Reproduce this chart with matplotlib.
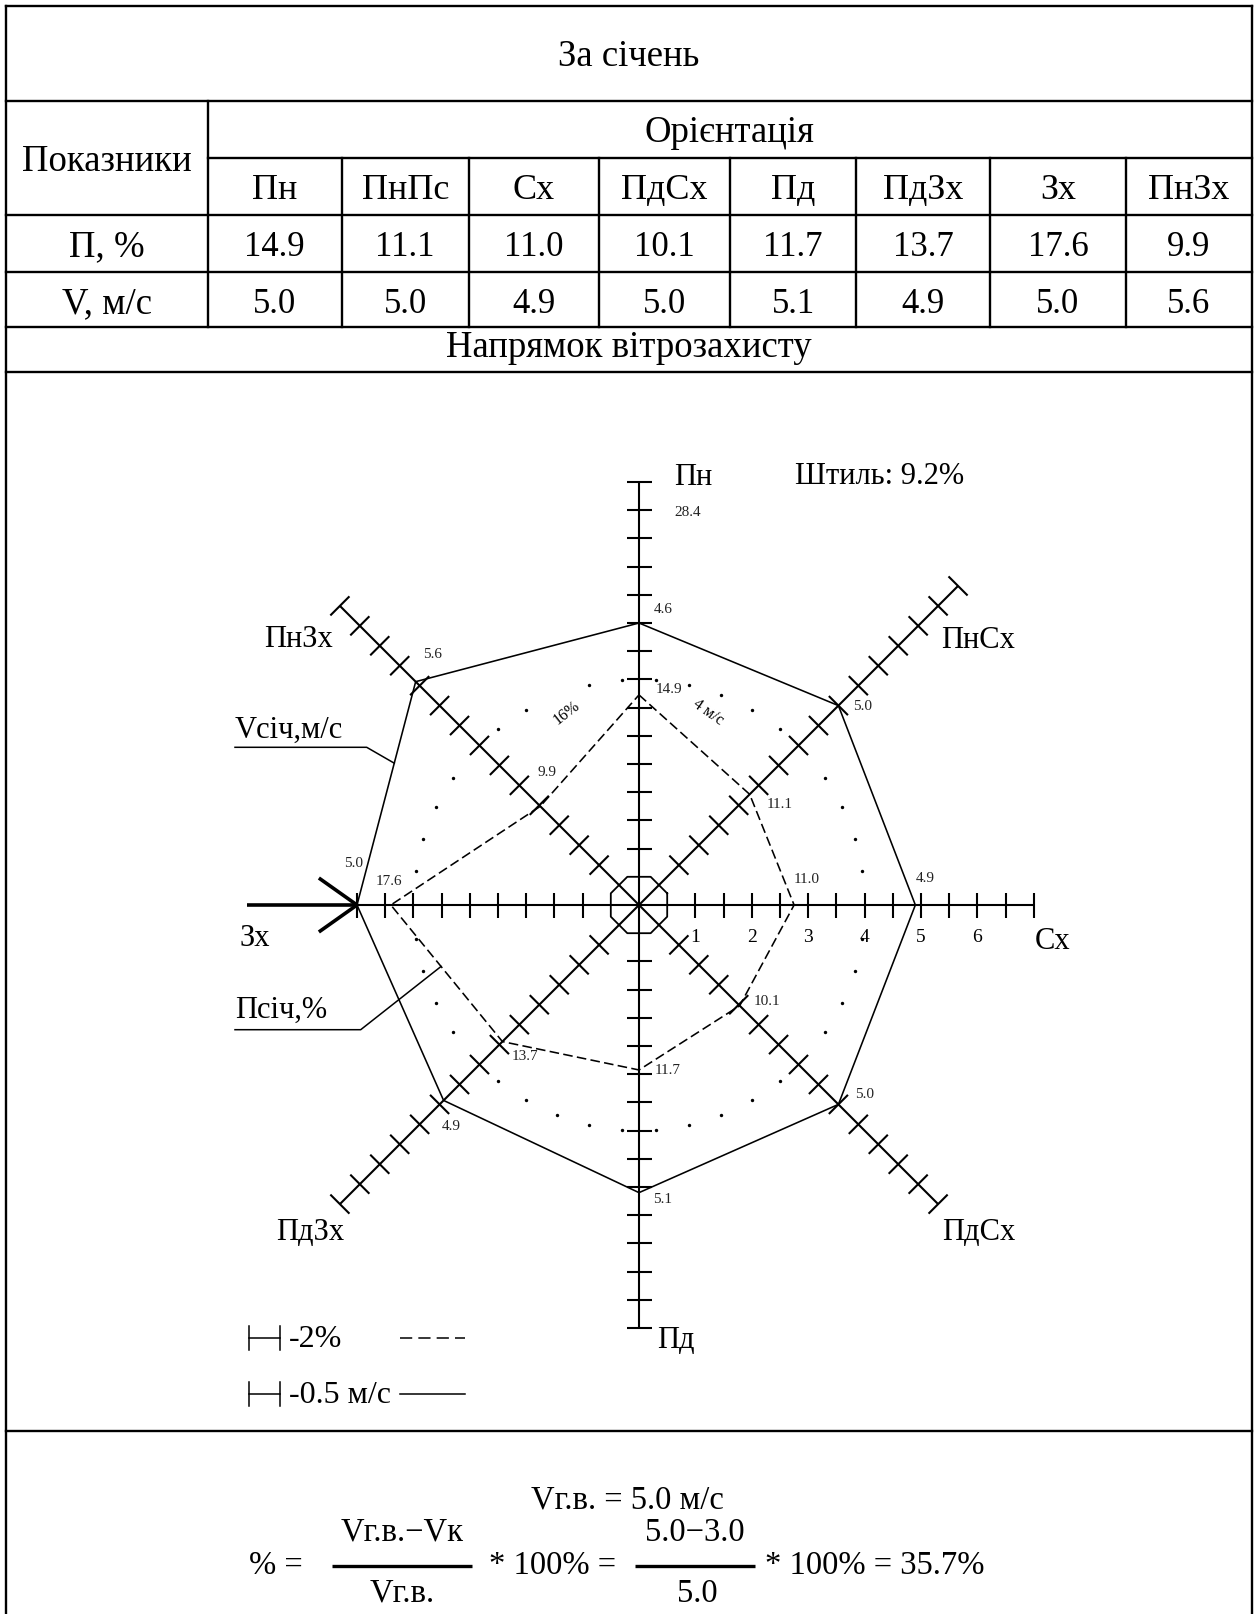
import numpy as np
import matplotlib.pyplot as plt
from matplotlib.collections import LineCollection

plt.rcParams['font.family'] = ['Liberation Serif', 'DejaVu Serif']

# --- table data ---
title = 'За січень'
header = 'Орієнтація'
row_names = ['П, %', 'V, м/с']
columns = ['Пн', 'ПнПс', 'Сх', 'ПдСх', 'Пд', 'ПдЗх', 'Зх', 'ПнЗх']
p_values = [14.9, 11.1, 11.0, 10.1, 11.7, 13.7, 17.6, 9.9]
v_values = [5.0, 5.0, 4.9, 5.0, 5.1, 4.9, 5.0, 5.6]

# --- wind rose data ---
rose_names = ['Пн', 'ПнСх', 'Сх', 'ПдСх', 'Пд', 'ПдЗх', 'Зх', 'ПнЗх']
v_marks = ['4.6', '5.0', '4.9', '5.0', '5.1', '4.9', '5.0', '5.6']
calm = 9.2
speed_scale = [1, 2, 3, 4, 5, 6]
ring_speed = 4      # м/с
ring_pct = 16       # %
v_gv = 5.0

W, H = 1259, 1615
fig = plt.figure(figsize=(W / 100, H / 100), dpi=100)

# pixel layer for the table frame and the texts
tab = fig.add_axes([0, 0, 1, 1])
tab.set_xlim(0, W)
tab.set_ylim(H, 0)
tab.axis('off')

# rose layer in м/с, 1 tick = 0.5 м/с = 2 %
CX, CY, PX = 639, 906, 56.4
rose = fig.add_axes([0, 0, 1, 1])
rose.set_xlim(-CX / PX, (W - CX) / PX)
rose.set_ylim(-(H - CY) / PX, CY / PX)
rose.axis('off')


def to_px(x, y):
    return CX + x * PX, CY - y * PX


# ---------------- table ----------------
blw = 1.7
xl, xr, yt = 6, 1252, 7.3
col_x = [207.7, 341.7, 468.7, 599, 730, 856.2, 990.5, 1125.6, xr]

tab.plot([xl, xl], [yt, H], color='k', lw=blw)
tab.plot([xr, xr], [yt, H], color='k', lw=blw)
tab.plot([xl, xr], [yt, yt], color='k', lw=blw)
for y in [101.7, 215.7, 272.7, 328.3, 373, 1432]:
    tab.plot([xl, xr], [y, y], color='k', lw=blw)
tab.plot([col_x[0], xr], [159, 159], color='k', lw=blw)
tab.plot([col_x[0], col_x[0]], [101.7, 328.3], color='k', lw=blw)
for x in col_x[1:-1]:
    tab.plot([x, x], [159, 328.3], color='k', lw=blw)

fs = 26.5   # words
nfs_tab = 25  # numbers
tab.text((xl + xr) / 2, 66, title, fontsize=fs, ha='center', va='baseline')
tab.text((col_x[0] + xr) / 2, 142, header, fontsize=fs, ha='center', va='baseline')
tab.text((xl + col_x[0]) / 2, 171, 'Показники', fontsize=fs, ha='center', va='baseline')
tab.text((xl + col_x[0]) / 2, 256.5, row_names[0], fontsize=fs, ha='center', va='baseline')
tab.text((xl + col_x[0]) / 2, 313, row_names[1], fontsize=fs, ha='center', va='baseline')
for i, name in enumerate(columns):
    cx = (col_x[i] + col_x[i + 1]) / 2
    tab.text(cx, 199, name, fontsize=fs - 0.5, ha='center', va='baseline')
    tab.text(cx, 256.5, f'{p_values[i]:.1f}', fontsize=nfs_tab, ha='center', va='baseline')
    tab.text(cx, 313, f'{v_values[i]:.1f}', fontsize=nfs_tab, ha='center', va='baseline')
tab.text((xl + xr) / 2, 357, 'Напрямок вітрозахисту', fontsize=fs, ha='center', va='baseline')

# ---------------- wind rose ----------------
ang = np.deg2rad([90, 45, 0, -45, -90, -135, 180, 135])
ux, uy = np.cos(ang), np.sin(ang)
arm_ticks = [15, 16, 14, 15, 15, 15, 10, 15]
step = 0.5
alw = 1.5

segs = []
for ax_, ay_, n in zip(ux, uy, arm_ticks):
    L = n * step
    half = (12.5 if ax_ * ay_ == 0 or abs(ax_) < 1e-9 or abs(ay_) < 1e-9 else 13.5) / PX
    rose.plot([0, L * ax_], [0, L * ay_], color='k', lw=alw, solid_capstyle='butt')
    for k in range(2, n + 1):
        r = k * step
        segs.append([(r * ax_ - half * ay_, r * ay_ + half * ax_),
                     (r * ax_ + half * ay_, r * ay_ - half * ax_)])
rose.add_collection(LineCollection(segs, colors='k', linewidths=alw))

# small octagon round the centre
oct_a = np.deg2rad(22.5 + 45 * np.arange(9))
oct_r = step / np.cos(np.deg2rad(22.5))
rose.plot(oct_r * np.cos(oct_a), oct_r * np.sin(oct_a), color='k', lw=1.3)

# dotted ring: 16 % = 4 м/с
dot_a = 90 + 360 / 84 + 360 / 42 * np.arange(42)
keep = []
for i, a in enumerate(dot_a % 360):
    if min(abs(a - d) for d in [45, 135, 225, 315]) < 3:
        continue
    if min(abs(a - d) for d in [0, 180, 360]) < 1:
        continue
    if i == 2:
        continue
    keep.append(a)
keep = np.deg2rad(keep)
rose.scatter(ring_speed * np.cos(keep), ring_speed * np.sin(keep), s=6, color='k', lw=0)

# speed polygon (solid) and frequency polygon (dashed)
v = np.array(v_values)
p = np.array(p_values) / 4.0
vx, vy = v * ux, v * uy
px_, py_ = p * ux, p * uy
rose.plot(np.append(vx, vx[0]), np.append(vy, vy[0]), color='k', lw=1.15)
rose.plot(np.append(px_, px_[0]), np.append(py_, py_[0]), color='k', lw=1.15,
          dashes=(6, 2.7))

# point labels
small = 11
v_off = [(24, -14), (24, 0), (10, -27), (26, -11), (24, 6), (8, 25), (-3, -42), (17, -28)]
p_off = [(30, -6), (30, 9), (13, -26), (27, -5), (29, 0), (23, 14), (-2, -24), (7, -35)]
for i in range(8):
    x0, y0 = to_px(vx[i], vy[i])
    tab.text(x0 + v_off[i][0], y0 + v_off[i][1], v_marks[i], fontsize=small,
             ha='center', va='center', color='#222222')
    x0, y0 = to_px(px_[i], py_[i])
    tab.text(x0 + p_off[i][0], y0 + p_off[i][1], f'{p_values[i]:.1f}', fontsize=small,
             ha='center', va='center', color='#222222')
tab.text(688, 512, '28.4', fontsize=small, ha='center', va='center', color='#222222')

# ring labels
tab.text(567, 713, f'{ring_pct}%', fontsize=11.5, ha='center', va='center', rotation=38)
tab.text(708, 712, f'{ring_speed} м/с', fontsize=11.5, ha='center', va='center', rotation=-35)

# speed scale along the east arm
for s in speed_scale:
    x0, _ = to_px(s, 0)
    tab.text(x0, 942, str(s), fontsize=14, ha='center', va='baseline')

# direction names
nfs = 22
tab.text(693, 485, rose_names[0], fontsize=nfs, ha='center', va='baseline')
tab.text(978, 648, rose_names[1], fontsize=nfs, ha='center', va='baseline')
tab.text(1035, 949, rose_names[2], fontsize=nfs, ha='left', va='baseline')
tab.text(942, 1240, rose_names[3], fontsize=nfs, ha='left', va='baseline')
tab.text(657, 1348, rose_names[4], fontsize=nfs, ha='left', va='baseline')
tab.text(344, 1240, rose_names[5], fontsize=nfs, ha='right', va='baseline')
tab.text(240, 946, rose_names[6], fontsize=nfs, ha='left', va='baseline')
tab.text(299, 647, rose_names[7], fontsize=nfs, ha='center', va='baseline')
tab.text(880, 484, f'Штиль: {calm}%', fontsize=nfs, ha='center', va='baseline')

# wind arrow onto the west arm
tip = -arm_ticks[6] * step
rose.plot([(247 - CX) / PX, tip], [0, 0], color='k', lw=2.6, solid_capstyle='butt')
rose.plot([tip - 0.65, tip, tip - 0.65], [0.46, 0, -0.46], color='k', lw=2.6)

# callouts
t = 0.635
ex, ey = to_px(vx[6] + t * (vx[7] - vx[6]), vy[6] + t * (vy[7] - vy[6]))
tab.plot([235, 366.7, ex], [748.3, 748.3, ey], color='k', lw=1.1)
tab.text(235, 738, 'Vсіч,м/с', fontsize=nfs, ha='left', va='baseline')
t = 0.45
ex, ey = to_px(px_[6] + t * (px_[5] - px_[6]), py_[6] + t * (py_[5] - py_[6]))
tab.plot([235, 360.7, ex], [1030.7, 1030.7, ey], color='k', lw=1.1)
tab.text(235, 1018, 'Псіч,%', fontsize=nfs, ha='left', va='baseline')

# legend
lfs = 23
for yy, label in [(1338.7, '-2%'), (1395, '-0.5 м/с')]:
    tab.plot([249.3, 280], [yy, yy], color='k', lw=1.1)
    tab.plot([249.3, 249.3], [yy - 12, yy + 12], color='k', lw=1.1)
    tab.plot([280, 280], [yy - 12, yy + 12], color='k', lw=1.1)
    tab.text(289, yy + 8.5, label, fontsize=lfs, ha='left', va='baseline')
tab.plot([400, 465], [1338.7, 1338.7], color='k', lw=1.1, dashes=(8, 4))
tab.plot([400, 465], [1395, 1395], color='k', lw=1.1)

# ---------------- formula ----------------
ffs = 23.5
tab.text(627, 1509, f'Vг.в. = {v_gv:.1f} м/с', fontsize=ffs, ha='center', va='baseline')
tab.text(276, 1574, '% =', fontsize=ffs, ha='center', va='baseline')
tab.text(402, 1541, 'Vг.в.−Vк', fontsize=ffs, ha='center', va='baseline')
tab.plot([331.7, 471.7], [1567, 1567], color='k', lw=2.4, solid_capstyle='butt')
tab.text(402, 1602, 'Vг.в.', fontsize=ffs, ha='center', va='baseline')
tab.text(553, 1574, '* 100% =', fontsize=ffs, ha='center', va='baseline')
tab.text(695, 1541, '5.0−3.0', fontsize=ffs, ha='center', va='baseline')
tab.plot([635, 755], [1567, 1567], color='k', lw=2.4, solid_capstyle='butt')
tab.text(697, 1602, '5.0', fontsize=ffs, ha='center', va='baseline')
tab.text(765, 1574, '* 100% = 35.7%', fontsize=ffs, ha='left', va='baseline')

fig.savefig('out.png', dpi=100, facecolor='white')
